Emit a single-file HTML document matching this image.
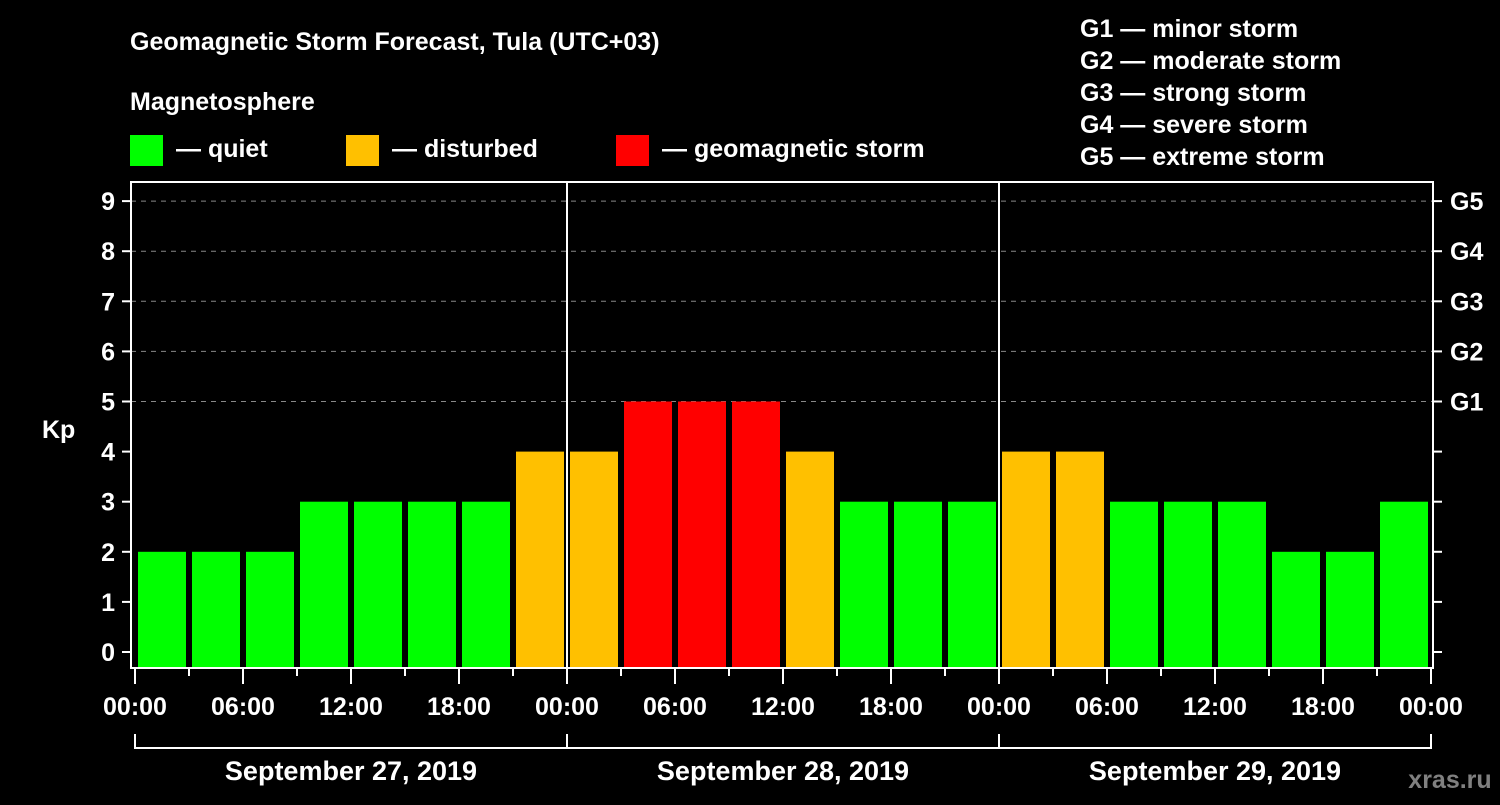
<!DOCTYPE html>
<html><head><meta charset="utf-8"><style>
body{margin:0;background:#000;width:1500px;height:800px;overflow:hidden}
svg text{font-family:"Liberation Sans",sans-serif;font-weight:bold;fill:#fff}
</style></head><body>
<svg id="c" width="1500" height="800">
<text x="130" y="50" font-size="25">Geomagnetic Storm Forecast, Tula (UTC+03)</text>
<text x="130" y="110" font-size="25">Magnetosphere</text>
<rect x="130" y="135" width="33" height="31" fill="#00ff00"/>
<text x="176" y="157" font-size="25">— quiet</text>
<rect x="346" y="135" width="33" height="31" fill="#ffc000"/>
<text x="392" y="157" font-size="25">— disturbed</text>
<rect x="616" y="135" width="33" height="31" fill="#ff0000"/>
<text x="662" y="157" font-size="25">— geomagnetic storm</text>
<g font-size="25">
<text x="1080" y="37">G1 — minor storm</text>
<text x="1080" y="69">G2 — moderate storm</text>
<text x="1080" y="101">G3 — strong storm</text>
<text x="1080" y="133">G4 — severe storm</text>
<text x="1080" y="165">G5 — extreme storm</text>
</g>
<text x="42" y="438" font-size="25">Kp</text>
<text x="1450" y="788" font-size="25" text-anchor="middle" style="fill:#808080">xras.ru</text>
<g id="plot"></g>
</svg>
<script>
const kpValues=[2,2,2,3,3,3,3,4, 4,5,5,5,4,3,3,3, 4,4,3,3,3,2,2,3];
const yTicks=[0,1,2,3,4,5,6,7,8,9];
const gLabels=["G1","G2","G3","G4","G5"];
const xTickLabels=["00:00","06:00","12:00","18:00","00:00","06:00","12:00","18:00","00:00","06:00","12:00","18:00","00:00"];
const dayLabels=["September 27, 2019","September 28, 2019","September 29, 2019"];
const NS="http://www.w3.org/2000/svg";
const g=document.getElementById('plot');
const x0=135,x1=1431,hours=72;
const X=h=>x0+(x1-x0)*h/hours;
const Y=v=>652-v*50.1;
const L=131,R=1433,T=182,B=668;
function mk(t,a,p){const e=document.createElementNS(NS,t);for(const k in a)e.setAttribute(k,a[k]);(p||g).appendChild(e);return e;}
yTicks.forEach(v=>{
 if(v>=5){const l=mk('line',{x1:L,x2:R,y1:Y(v),y2:Y(v),stroke:'#888','stroke-dasharray':'5,5','stroke-width':1});
 
 }
 const t=mk('line',{x1:122,x2:L,y1:Y(v),y2:Y(v),stroke:'#fff','stroke-width':2});
 
 
 const t2=mk('line',{x1:R,x2:1442,y1:Y(v),y2:Y(v),stroke:'#fff','stroke-width':2});
 
 
 const tx=mk('text',{x:115,y:Y(v)+9,'font-size':25,'text-anchor':'end'});tx.textContent=v;
 
 
});
gLabels.forEach((s,i)=>{const tx=mk('text',{x:1450,y:Y(5+i)+9,'font-size':25});tx.textContent=s;
 
 });
kpValues.forEach((v,i)=>{
 const c=v>=5?'#ff0000':(v>=4?'#ffc000':'#00ff00');
 const r=mk('rect',{x:X(i*3)+3,width:48,y:Y(v),height:B-Y(v),fill:c});
 
 
});
const f=mk('rect',{x:L,y:T,width:R-L,height:B-T,fill:'none',stroke:'#fff','stroke-width':2});


[1,2].forEach(d=>{const l=mk('line',{x1:X(d*24),x2:X(d*24),y1:T,y2:B,stroke:'#fff','stroke-width':2});
 
 });
for(let h=0;h<=72;h+=3){const big=h%6==0;const l=mk('line',{x1:X(h),x2:X(h),y1:B,y2:B+(big?16:8),stroke:'#fff','stroke-width':2});
 
 }
xTickLabels.forEach((s,i)=>{const tx=mk('text',{x:X(i*6),y:715,'font-size':25,'text-anchor':'middle'});tx.textContent=s;
 
 });
const br=mk('path',{d:`M${X(0)},734V748H${X(72)}V734`,fill:'none',stroke:'#fff','stroke-width':2});


[1,2].forEach(d=>{const l=mk('line',{x1:X(d*24),x2:X(d*24),y1:734,y2:748,stroke:'#fff','stroke-width':2});
 
 });
dayLabels.forEach((s,i)=>{const tx=mk('text',{x:X(i*24+12),y:780,'font-size':27,'text-anchor':'middle'});tx.textContent=s;
 
 });
</script>
</body></html>
